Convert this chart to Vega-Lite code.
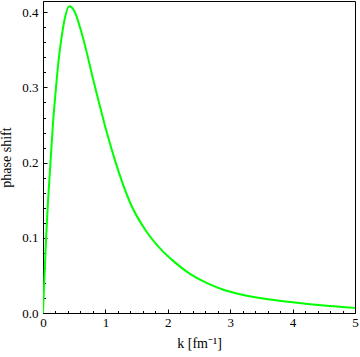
{
  "$schema": "https://vega.github.io/schema/vega-lite/v6.json",
  "autosize": "none",
  "width": 312,
  "height": 312,
  "padding": {"left": 43, "top": 1, "right": 5, "bottom": 44},
  "background": "white",
  "config": {
    "view": {"stroke": "black", "strokeWidth": 1},
    "font": "Liberation Serif"
  },
  "data": {"values": [
    {"k": 0.0, "delta": 0.0},
    {"k": 0.02, "delta": 0.042},
    {"k": 0.05, "delta": 0.1},
    {"k": 0.08, "delta": 0.148},
    {"k": 0.12, "delta": 0.2},
    {"k": 0.16, "delta": 0.252},
    {"k": 0.2, "delta": 0.292},
    {"k": 0.25, "delta": 0.336},
    {"k": 0.3, "delta": 0.368},
    {"k": 0.35, "delta": 0.392},
    {"k": 0.42, "delta": 0.408},
    {"k": 0.5, "delta": 0.402},
    {"k": 0.6, "delta": 0.378},
    {"k": 0.7, "delta": 0.347},
    {"k": 0.8, "delta": 0.312},
    {"k": 0.9, "delta": 0.279},
    {"k": 1.0, "delta": 0.247},
    {"k": 1.15, "delta": 0.204},
    {"k": 1.4, "delta": 0.146},
    {"k": 1.66, "delta": 0.108},
    {"k": 1.875, "delta": 0.086},
    {"k": 2.09, "delta": 0.069},
    {"k": 2.356, "delta": 0.052},
    {"k": 2.62, "delta": 0.040},
    {"k": 2.89, "delta": 0.031},
    {"k": 3.157, "delta": 0.025},
    {"k": 3.5, "delta": 0.0195},
    {"k": 4.0, "delta": 0.0142},
    {"k": 4.5, "delta": 0.0100},
    {"k": 5.0, "delta": 0.0068}
  ]},
  "mark": {"type": "line", "color": "#00ff00", "strokeWidth": 2, "interpolate": "monotone", "clip": true},
  "encoding": {
    "x": {
      "field": "k", "type": "quantitative",
      "scale": {"domain": [0, 5], "nice": false, "zero": false},
      "axis": {
        "title": "k [fm⁻¹]",
        "values": [0,0.2,0.4,0.6,0.8,1,1.2,1.4,1.6,1.8,2,2.2,2.4,2.6,2.8,3,3.2,3.4,3.6,3.8,4,4.2,4.4,4.6,4.8,5],
        "labelExpr": "datum.value % 1 === 0 ? format(datum.value, 'd') : ''",
        "tickSize": {"condition": {"test": "datum.value % 1 === 0", "value": -4}, "value": -2.5},
        "tickColor": "black",
        "domainColor": "black",
        "grid": false,
        "labelFont": "Liberation Serif",
        "labelFontSize": 13,
        "labelColor": "black",
        "labelPadding": 7,
        "labelFlush": false,
        "labelOverlap": false,
        "titleFont": "Liberation Serif",
        "titleFontSize": 14,
        "titleFontWeight": "normal",
        "titleColor": "black",
        "titlePadding": 6
      }
    },
    "y": {
      "field": "delta", "type": "quantitative",
      "scale": {"domain": [0, 0.415], "nice": false, "zero": false},
      "axis": {
        "title": "phase shift",
        "values": [0,0.02,0.04,0.06,0.08,0.1,0.12,0.14,0.16,0.18,0.2,0.22,0.24,0.26,0.28,0.3,0.32,0.34,0.36,0.38,0.4],
        "labelExpr": "abs(datum.value*10 - round(datum.value*10)) < 0.001 ? format(datum.value, '.1f') : ''",
        "tickSize": {"condition": {"test": "abs(datum.value*10 - round(datum.value*10)) < 0.001", "value": -4}, "value": -2.5},
        "tickColor": "black",
        "domainColor": "black",
        "grid": false,
        "labelFont": "Liberation Serif",
        "labelFontSize": 13,
        "labelColor": "black",
        "labelPadding": 9,
        "labelFlush": false,
        "labelOverlap": false,
        "titleFont": "Liberation Serif",
        "titleFontSize": 14,
        "titleFontWeight": "normal",
        "titleColor": "black",
        "titlePadding": 8
      }
    }
  }
}
